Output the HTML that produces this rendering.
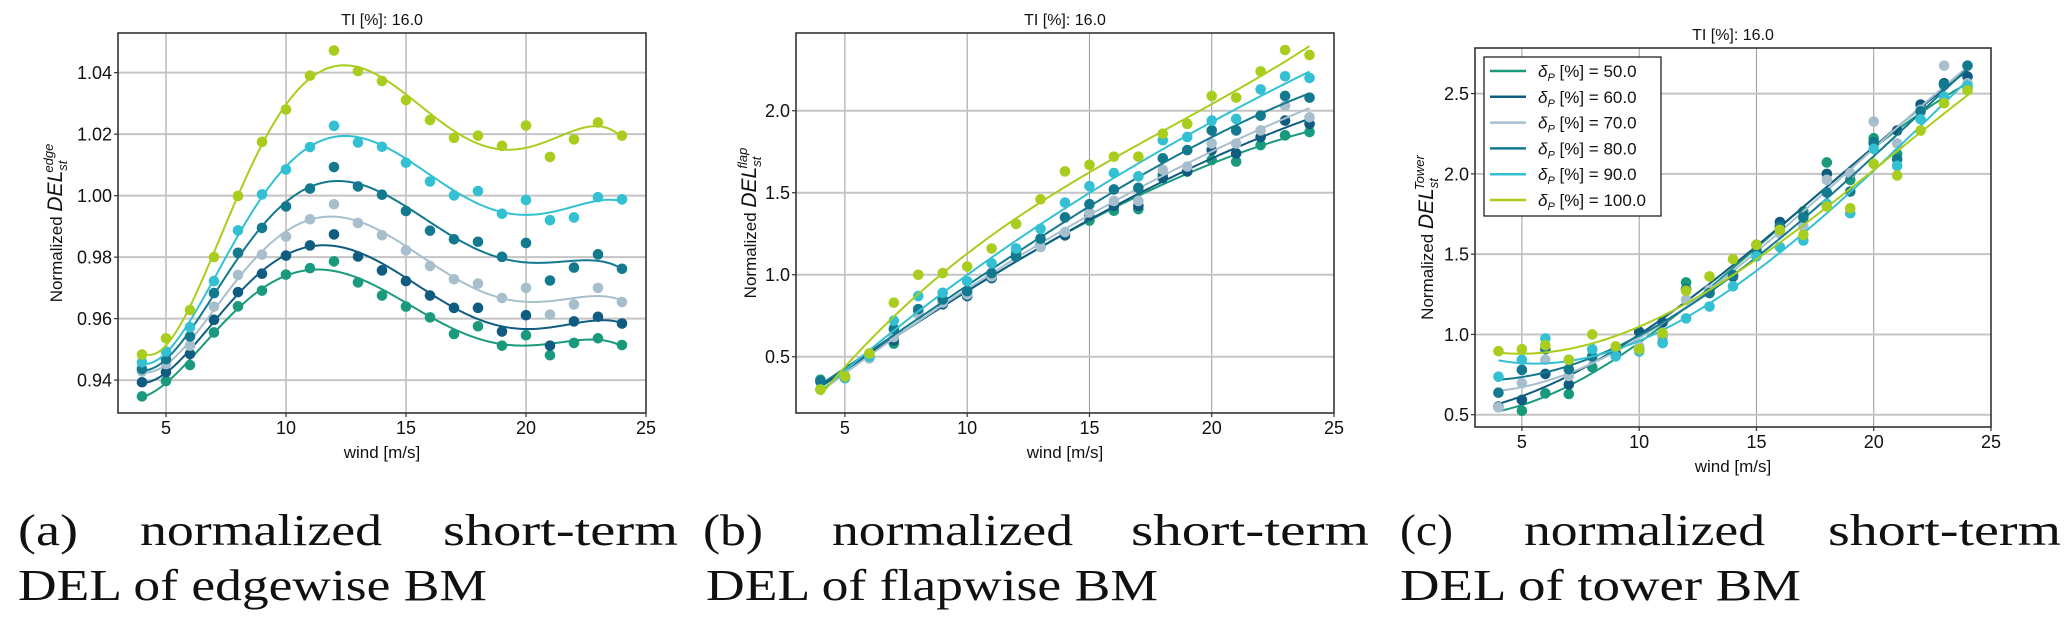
<!DOCTYPE html>
<html><head><meta charset="utf-8"><style>
html,body{margin:0;padding:0;background:#fff;}
svg{display:block;}
.tick{font-family:"Liberation Sans",sans-serif;font-size:18px;fill:#111;}
.lab{font-family:"Liberation Sans",sans-serif;font-size:17px;fill:#111;}
.ttl{font-family:"Liberation Sans",sans-serif;font-size:16px;fill:#111;}
.cap{font-family:"Liberation Serif",serif;font-size:44px;fill:#111;}
.leg{font-family:"Liberation Sans",sans-serif;font-size:17px;fill:#111;}
</style></head><body>
<svg id="fig" width="2067" height="623" viewBox="0 0 2067 623" xmlns="http://www.w3.org/2000/svg"></svg>
<script>
const winds = [4,5,6,7,8,9,10,11,12,13,14,15,16,17,18,19,20,21,22,23,24];
const seriesLabels = ["50.0","60.0","70.0","80.0","90.0","100.0"];
const seriesColors = ["#1a9a7c","#0f5c80","#a7bfcd","#13798f","#33c0d3","#a9cd1c"];
// panel a: edgewise
const edge50 = [0.9347,0.9397,0.9449,0.9555,0.964,0.9691,0.9743,0.9764,0.9786,0.9718,0.9675,0.9639,0.9604,0.955,0.9575,0.9512,0.9546,0.9481,0.9521,0.9536,0.9514];
const edge60 = [0.9393,0.9426,0.9485,0.9596,0.9686,0.9746,0.9805,0.9838,0.9874,0.9802,0.9757,0.9722,0.9675,0.9635,0.9635,0.9558,0.9611,0.9512,0.9591,0.9606,0.9584];
const edge70 = [0.9428,0.9452,0.9512,0.9639,0.9742,0.9808,0.9867,0.9923,0.9972,0.9911,0.9871,0.9822,0.9771,0.9728,0.9714,0.9667,0.970,0.9613,0.9646,0.970,0.9654];
const edge80 = [0.9436,0.9468,0.9542,0.9683,0.9814,0.9895,0.9965,1.0023,1.0093,1.003,1.0003,0.995,0.9886,0.9858,0.985,0.9801,0.9846,0.9724,0.9766,0.9809,0.9762];
const edge90 = [0.9458,0.9493,0.9572,0.9722,0.9887,1.0004,1.0085,1.0158,1.0227,1.0173,1.0159,1.0107,1.0046,1.0001,1.0015,0.9941,0.9986,0.992,0.9929,0.9995,0.9988];
const edge100 = [0.9483,0.9536,0.9628,0.980,0.9999,1.0175,1.028,1.039,1.0472,1.0405,1.0373,1.0311,1.0246,1.0188,1.0195,1.0162,1.0228,1.0126,1.0183,1.0238,1.0195];
// panel b: flapwise
const flap50 = [0.36,0.37,0.50,0.58,0.76,0.82,0.87,0.98,1.13,1.18,1.25,1.33,1.39,1.40,1.61,1.63,1.70,1.69,1.79,1.85,1.87];
const flap60 = [0.35,0.38,0.50,0.60,0.77,0.82,0.87,0.98,1.11,1.17,1.24,1.36,1.42,1.42,1.59,1.63,1.76,1.74,1.84,1.94,1.92];
const flap70 = [0.30,0.37,0.49,0.62,0.76,0.83,0.88,0.99,1.16,1.17,1.26,1.38,1.45,1.45,1.64,1.66,1.80,1.80,1.88,2.03,1.96];
const flap80 = [0.35,0.38,0.51,0.67,0.79,0.85,0.90,1.01,1.11,1.22,1.35,1.43,1.52,1.53,1.71,1.76,1.88,1.88,1.97,2.09,2.08];
const flap90 = [0.30,0.37,0.50,0.72,0.87,0.89,0.96,1.07,1.16,1.28,1.44,1.54,1.62,1.60,1.82,1.84,1.94,1.95,2.13,2.21,2.20];
const flap100 = [0.30,0.38,0.52,0.83,1.00,1.01,1.05,1.16,1.31,1.46,1.63,1.67,1.72,1.72,1.86,1.92,2.09,2.08,2.24,2.37,2.34];
// panel c: tower
const tow50 = [0.55,0.525,0.633,0.629,0.796,0.873,0.904,0.987,1.324,1.278,1.369,1.52,1.651,1.766,2.071,1.963,2.222,2.124,2.398,2.564,2.533];
const tow60 = [0.55,0.592,0.754,0.688,0.863,0.883,1.017,1.075,1.282,1.274,1.36,1.558,1.70,1.739,2.0,2.0,2.195,2.27,2.432,2.564,2.606];
const tow70 = [0.546,0.696,0.842,0.742,0.858,0.925,0.925,0.987,1.216,1.278,1.371,1.506,1.63,1.672,1.963,2.004,2.326,2.19,2.398,2.674,2.564];
const tow80 = [0.637,0.779,0.908,0.783,0.863,0.873,0.904,0.95,1.28,1.257,1.37,1.52,1.672,1.728,1.884,1.89,2.19,2.09,2.39,2.554,2.674];
const tow90 = [0.737,0.842,0.975,0.842,0.908,0.863,0.894,0.946,1.10,1.174,1.30,1.486,1.544,1.585,1.813,1.755,2.156,2.05,2.34,2.48,2.548];
const tow100 = [0.896,0.908,0.933,0.842,1.0,0.925,0.908,1.008,1.272,1.361,1.469,1.558,1.651,1.62,1.797,1.786,2.062,1.99,2.27,2.44,2.52];
const xTicks = [5,10,15,20,25];
const edgeTicks = ["0.94","0.96","0.98","1.00","1.02","1.04"];
const flapTicks = ["0.5","1.0","1.5","2.0"];
const towTicks = ["0.5","1.0","1.5","2.0","2.5"];

const NS="http://www.w3.org/2000/svg";
const svg=document.getElementById('fig');
function mk(tag,attrs,parent){const e=document.createElementNS(NS,tag);for(const k in attrs)e.setAttribute(k,attrs[k]);(parent||svg).appendChild(e);return e;}

function polyfit(xs,ys,deg){
  const xm=14,xs2=10;const n=deg+1;
  const A=[];for(let i=0;i<n;i++){A.push(new Array(n+1).fill(0));}
  for(let k=0;k<xs.length;k++){const t=(xs[k]-xm)/xs2;const p=[];for(let i=0;i<n;i++)p.push(Math.pow(t,i));
    for(let i=0;i<n;i++){for(let j=0;j<n;j++)A[i][j]+=p[i]*p[j];A[i][n]+=p[i]*ys[k];}}
  for(let i=0;i<n;i++){let m=i;for(let r=i+1;r<n;r++)if(Math.abs(A[r][i])>Math.abs(A[m][i]))m=r;[A[i],A[m]]=[A[m],A[i]];
    for(let r=0;r<n;r++){if(r===i)continue;const f=A[r][i]/A[i][i];for(let c=i;c<=n;c++)A[r][c]-=f*A[i][c];}}
  const co=A.map((row,i)=>row[n]/row[i]);
  return x=>{const t=(x-xm)/xs2;let s=0;for(let i=0;i<n;i++)s+=co[i]*Math.pow(t,i);return s;};
}

function panel(cfg){
  const g=mk('g',{});
  
  
  const {L,R,T,B,ymin,ymax}=cfg;
  const sx=v=>L+(v-3)/(25-3)*(R-L);
  const sy=v=>B-(v-ymin)/(ymax-ymin)*(B-T);
  // grid
  xTicks.forEach(t=>{
    if(t<25){const gl=mk('line',{x1:sx(t),x2:sx(t),y1:T,y2:B,stroke:'#9a9a9a','stroke-width':1},g);
    }
    const tk=mk('line',{x1:sx(t),x2:sx(t),y1:B,y2:B+4,stroke:'#333','stroke-width':1.2},g);
    
    const tl=mk('text',{x:sx(t),y:B+21,'text-anchor':'middle',class:'tick'},g);tl.textContent=t;
    
  });
  cfg.yt.forEach(s=>{const v=parseFloat(s);
    const gl=mk('line',{x1:L,x2:R,y1:sy(v),y2:sy(v),stroke:'#c4c4c4','stroke-width':2},g);
    
    const tk=mk('line',{x1:L-4,x2:L,y1:sy(v),y2:sy(v),stroke:'#333','stroke-width':1.2},g);
    
    const tl=mk('text',{x:L-6,y:sy(v)+6.5,'text-anchor':'end',class:'tick'},g);tl.textContent=s;
    
  });
  // series
  cfg.data.forEach((ys,i)=>{
    const f=polyfit(winds,ys,cfg.deg);let d='';
    for(let x=4;x<=24.001;x+=0.1){d+=(d?'L':'M')+sx(x).toFixed(2)+','+sy(f(x)).toFixed(2);}
    const pth=mk('path',{d:d,fill:'none',stroke:seriesColors[i],'stroke-width':2},g);
    
    ys.forEach((v,k)=>{const c=mk('circle',{cx:sx(winds[k]),cy:sy(v),r:5.3,fill:seriesColors[i]},g);
      });
  });
  const fr=mk('rect',{x:L,y:T,width:R-L,height:B-T,fill:'none',stroke:'#333','stroke-width':1.6},g);
  
  const tt=mk('text',{x:(L+R)/2,y:T-8,'text-anchor':'middle',class:'ttl'},g);tt.textContent='TI [%]: 16.0';
  
  const xl=mk('text',{x:(L+R)/2,y:B+45,'text-anchor':'middle',class:'lab'},g);xl.textContent='wind [m/s]';
  
  const cy=(T+B)/2;
  const yl=mk('text',{x:0,y:0,'text-anchor':'middle',class:'lab',transform:`translate(${cfg.ylx},${cy}) rotate(-90)`},g);
  
  yl.innerHTML=`Normalized <tspan font-style="italic" font-size="21">DEL</tspan><tspan font-style="italic" font-size="13" dy="5">st</tspan><tspan font-style="italic" font-size="13" dx="-12" dy="-14">${cfg.sup}</tspan>`;
  // caption
  const c=cfg.cap;
  const w1=mk('text',{x:c.a[0],y:545,class:'cap',textLength:c.a[1]-c.a[0],lengthAdjust:'spacingAndGlyphs'},g);w1.textContent=cfg.capA;
  
  const w2=mk('text',{x:c.n[0],y:545,class:'cap',textLength:c.n[1]-c.n[0],lengthAdjust:'spacingAndGlyphs'},g);w2.textContent='normalized';
  
  const w3=mk('text',{x:c.s[0],y:545,class:'cap',textLength:c.s[1]-c.s[0],lengthAdjust:'spacingAndGlyphs'},g);w3.textContent='short-term';
  
  const w4=mk('text',{x:c.l[0],y:600,class:'cap',textLength:c.l[1]-c.l[0],lengthAdjust:'spacingAndGlyphs'},g);w4.textContent=cfg.capLine2;
  
  return {g,sx,sy};
}

panel({name:'edgewise-panel',L:118,R:646,T:33,B:413,ymin:0.9293,ymax:1.0529,yt:edgeTicks,deg:5,ylx:62,sup:'edge',
  data:[edge50,edge60,edge70,edge80,edge90,edge100],capA:'(a)',capLine2:'DEL of edgewise BM',
  cap:{a:[18,78],n:[140,382],s:[443,678],l:[18,487]}});
panel({name:'flapwise-panel',L:796,R:1334,T:33,B:413,ymin:0.157,ymax:2.474,yt:flapTicks,deg:3,ylx:756,sup:'flap',
  data:[flap50,flap60,flap70,flap80,flap90,flap100],capA:'(b)',capLine2:'DEL of flapwise BM',
  cap:{a:[703,763],n:[832,1073],s:[1131,1369],l:[706,1158]}});
const pc=panel({name:'tower-panel',L:1475,R:1991,T:48,B:427,ymin:0.4235,ymax:2.784,yt:towTicks,deg:3,ylx:1433,sup:'Tower',
  data:[tow50,tow60,tow70,tow80,tow90,tow100],capA:'(c)',capLine2:'DEL of tower BM',
  cap:{a:[1400,1453],n:[1524,1765],s:[1828,2061],l:[1400,1801]}});

// legend
const lg=mk('g',{});


mk('rect',{x:1484,y:57,width:177,height:159,fill:'#fff',stroke:'#222','stroke-width':1.3},lg);
seriesLabels.forEach((s,i)=>{
  const y=71+i*25.8;
  const e=mk('g',{},lg);
  
  
  mk('line',{x1:1490,x2:1526,y1:y,y2:y,stroke:seriesColors[i],'stroke-width':2.5},e);
  const t=mk('text',{x:1538,y:y+6,class:'leg'},e);
  t.innerHTML=`<tspan font-style="italic">δ</tspan><tspan font-style="italic" font-size="11" dy="4">P</tspan><tspan dy="-4"> [%] = ${s}</tspan>`;
});
</script>
</body></html>
